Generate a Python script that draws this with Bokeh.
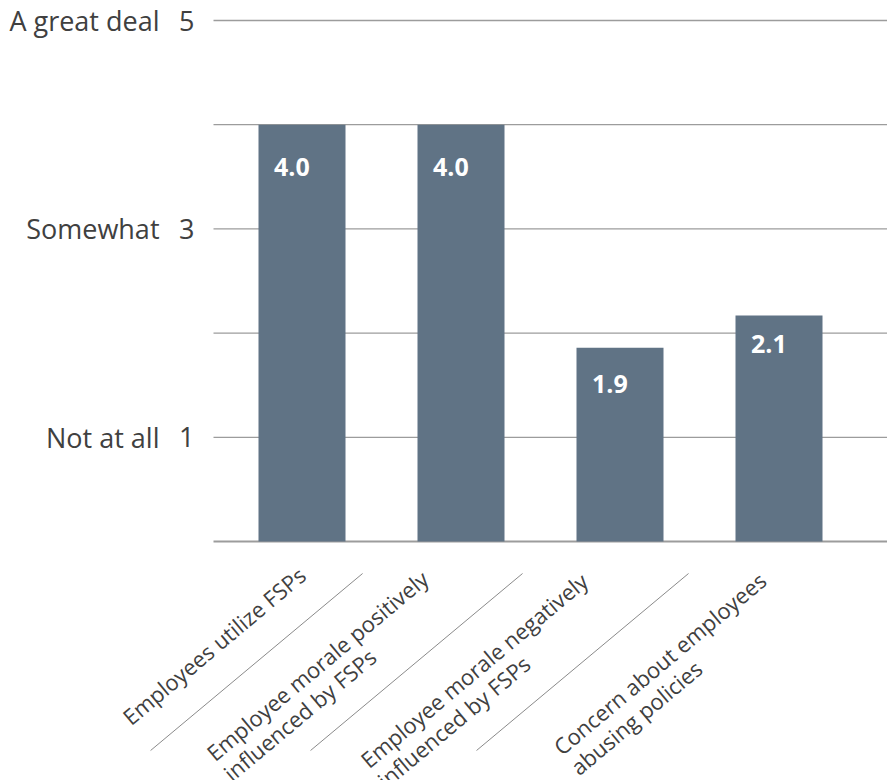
from bokeh.plotting import figure
from bokeh.models import Range1d, ColumnDataSource
from bokeh.embed import file_html
from bokeh.resources import INLINE
from bokeh.core.properties import value

# ---------------- data ----------------
categories = [
    "Employees utilize FSPs",
    "Employee morale positively\ninfluenced by FSPs",
    "Employee morale negatively\ninfluenced by FSPs",
    "Concern about employees\nabusing policies",
]
bar_values = [4.0, 4.0, 1.86, 2.17]
value_labels = ["4.0", "4.0", "1.9", "2.1"]
scale_ticks = [1, 3, 5]
scale_numbers = ["1", "3", "5"]
scale_words = ["Not at all", "Somewhat", "A great deal"]
grid_ticks = [0, 1, 2, 3, 4, 5]

# ---------------- style / layout ----------------
FONT = "Open Sans"
TEXT = "#404040"
BAR = "#607385"
GRID = "#9c9c9c"
SEP = "#8a8a8a"

W, H = 887, 780
CAT0_PX = 301.5        # pixel x of first category centre
UNIT = 159.0           # px per category
BASE_PX = 541.0        # pixel y of value 0
VUNIT = 104.2          # px per scale point
LEFT_PX = 213.0        # left end of grid lines

x_lo = -CAT0_PX / UNIT
x_hi = (W - CAT0_PX) / UNIT
y_hi = BASE_PX / VUNIT
y_lo = -(H - BASE_PX) / VUNIT
grid_left = (LEFT_PX - CAT0_PX) / UNIT

bar_width = 87 / UNIT
label_dy = [42, 42, 36, 29]                      # px below bar top
start_dx = [-176.5, -251.5, -256.5, -222.5]      # px from category centre
start_dy = [178, 214, 221, 208]                  # px below baseline
line_step = (17.0, 20.2)
sep_dx = [-0.119, -0.113, -0.069]                # category units from boundary
sep_top, sep_bottom = -32 / VUNIT, -209 / VUNIT
sep_len = 212 / UNIT

p = figure(width=W, height=H,
           x_range=Range1d(x_lo, x_hi), y_range=Range1d(y_lo, y_hi),
           x_axis_type=None, y_axis_type=None,
           output_backend="svg", toolbar_location=None,
           min_border_left=0, min_border_right=0, min_border_top=0, min_border_bottom=0)
p.outline_line_color = None
p.xgrid.visible = False
p.ygrid.visible = False
p.background_fill_color = "white"
p.border_fill_color = "white"

# grid lines (scale points)
p.segment(x0=[grid_left] * len(grid_ticks), x1=[x_hi] * len(grid_ticks),
          y0=grid_ticks, y1=grid_ticks, line_color=GRID,
          line_width=[2.0 if t == 0 else 1.3 for t in grid_ticks])

# y scale labels
p.text(x=[grid_left] * len(scale_ticks), y=scale_ticks, text=scale_numbers,
       x_offset=-19, text_align="right", text_baseline="middle",
       text_color=TEXT, text_font=value(FONT), text_font_size="27px")
p.text(x=[grid_left] * len(scale_ticks), y=scale_ticks, text=scale_words,
       x_offset=-54, text_align="right", text_baseline="middle",
       text_color=TEXT, text_font=value(FONT), text_font_size="27px")

# bars
src = ColumnDataSource(dict(x=list(range(len(bar_values))), top=bar_values,
                            label=value_labels, dy=label_dy))
p.vbar(x="x", top="top", bottom=0, width=bar_width, source=src,
       fill_color=BAR, line_color=None)
p.text(x="x", y="top", text="label", source=src, x_offset=-28, y_offset="dy",
       text_align="left", text_baseline="alphabetic", text_color="white",
       text_font=value(FONT), text_font_style="bold", text_font_size="25px")

# rotated category labels
xs, ys, xo, yo, texts = [], [], [], [], []
for i, cat in enumerate(categories):
    for j, line in enumerate(cat.split("\n")):
        xs.append(i)
        ys.append(0)
        xo.append(start_dx[i] + j * line_step[0])
        yo.append(start_dy[i] + j * line_step[1])
        texts.append(line)
p.text(x=xs, y=ys, text=texts, x_offset=xo, y_offset=yo, angle=40, angle_units="deg",
       text_align="left", text_baseline="alphabetic", text_color=TEXT,
       text_font=value(FONT), text_font_size="22px")

# diagonal separators between category labels
sx0 = [i + 0.5 + d for i, d in enumerate(sep_dx)]
p.segment(x0=sx0, y0=[sep_top] * len(sx0), x1=[x - sep_len for x in sx0],
          y1=[sep_bottom] * len(sx0), line_color=SEP, line_width=1)

open("out.html", "w").write(file_html(p, INLINE))
